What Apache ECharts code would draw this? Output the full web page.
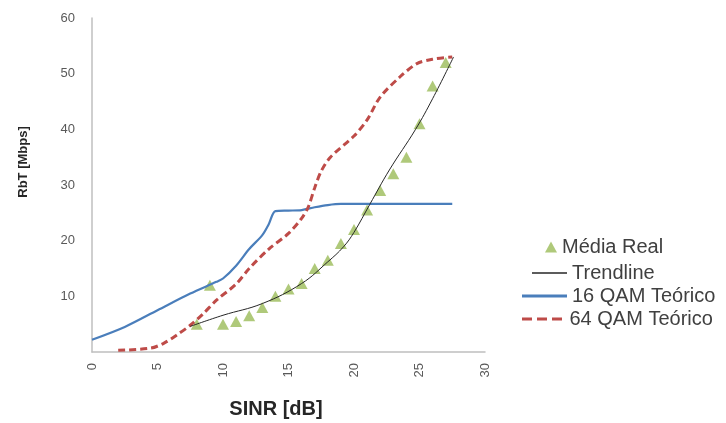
<!DOCTYPE html>
<html><head><meta charset="utf-8">
<script src="https://cdn.jsdelivr.net/npm/echarts@6/dist/echarts.min.js"></script>
<style>html,body{margin:0;padding:0;background:#fff}#c{width:726px;height:423px}</style>
</head><body><div id="c"></div>
<script>
var xTicks = [0, 5, 10, 15, 20, 25, 30];
var yTicks = [10, 20, 30, 40, 50, 60];
var mediaReal = [[8,5],[9,12],[10,5],[11,5.5],[12,6.5],[13,8],[14,10],[15,11.3],[16,12.3],[17,15],[18,16.5],[19,19.5],[20,22],[21,25.5],[22,29],[23,32],[24,35],[25,41],[26,47.8],[27,52]];
var trendline = [[7.5,4.6],[10,6.6],[13,8.7],[16,12.3],[18,16.2],[19.2,18.9],[20,21.5],[21.2,26.5],[22.7,32.7],[24.7,40],[26,45.5],[27.6,53]];
var qam16 = [[0,2.2],[2.5,4.5],[5,7.5],[7.5,10.5],[9.5,12.6],[10,13.2],[11,15.5],[12,18.5],[13,21],[13.5,23],[14,25.3],[15,25.4],[16,25.5],[17,26],[18,26.4],[19,26.6],[20,26.6],[27.5,26.6]];
var qam64 = [[2,0.3],[4.5,0.7],[5.5,1.6],[6.5,3.1],[7.5,4.8],[8.5,6.9],[9.5,9.3],[11,12.2],[12,15],[13.5,18.5],[15,21.3],[16,24],[16.5,26],[17,29.5],[17.5,32.5],[18.2,35],[20,38.8],[21,41.7],[22,45.8],[23.5,49.4],[24.8,51.8],[26,52.6],[27.5,53]];

var FONT = 'Liberation Sans';
var chart = echarts.init(document.getElementById('c'), null, {renderer:'canvas'});
var legText = {fontFamily: FONT, fontSize: 20, color: '#404040'};
var dashIcon = 'path://M0,0h10v3h-10z M15,0h10v3h-10z M30,0h10v3h-10z';
chart.setOption({
  animation: false,
  textStyle: {fontFamily: FONT},
  grid: {left: 92, right: 241, top: 18, bottom: 71},
  xAxis: {
    type: 'value', min: xTicks[0], max: xTicks[xTicks.length-1], interval: 5,
    axisLine: {lineStyle: {color: '#bfbfbf', width: 1.5}},
    axisTick: {show: false}, splitLine: {show: false},
    axisLabel: {rotate: 90, color: '#595959', fontSize: 13, margin: 11, fontFamily: FONT}
  },
  yAxis: {
    type: 'value', min: 0, max: yTicks[yTicks.length-1], interval: 10,
    axisLine: {show: true, lineStyle: {color: '#bfbfbf', width: 1.5}},
    axisTick: {show: false}, splitLine: {show: false},
    axisLabel: {color: '#595959', fontSize: 13, margin: 17, fontFamily: FONT,
      formatter: function(v){ return v === 0 ? '' : v; }}
  },
  graphic: [
    {type: 'text', x: 276, y: 409, style: {text: 'SINR [dB]', font: 'bold 20px "Liberation Sans"', fill: '#262626', align: 'center', verticalAlign: 'middle', textAlign: 'center', textVerticalAlign: 'middle'}},
    {type: 'text', x: 23, y: 162, rotation: Math.PI / 2, style: {text: 'RbT [Mbps]', font: 'bold 13px "Liberation Sans"', fill: '#262626', align: 'center', verticalAlign: 'middle', textAlign: 'center', textVerticalAlign: 'middle'}}
  ],
  legend: [
    {left: 540, top: 232, orient: 'vertical', itemWidth: 12, itemHeight: 11, textStyle: legText, data: [{name: 'Média Real', icon: 'triangle'}]},
    {left: 527, top: 258, orient: 'vertical', itemWidth: 35, itemHeight: 1.5, textStyle: legText, data: [{name: 'Trendline', icon: 'rect'}]},
    {left: 517, top: 281, orient: 'vertical', itemWidth: 45, itemHeight: 3, textStyle: legText, data: [{name: '16 QAM Teórico', icon: 'rect'}]},
    {left: 517, top: 304, orient: 'vertical', itemWidth: 45, itemHeight: 3, textStyle: legText, data: [{name: '64 QAM Teórico', icon: dashIcon}]}
  ],
  series: [
    {name: '16 QAM Teórico', type: 'line', data: qam16, smooth: 0.3, showSymbol: false, symbol: 'none',
     lineStyle: {color: '#4a7ebb', width: 2.2}, itemStyle: {color: '#4a7ebb'}},
    {name: '64 QAM Teórico', type: 'line', data: qam64, smooth: 0.3, showSymbol: false, symbol: 'none',
     lineStyle: {color: '#be4b48', width: 3, type: [7, 4]}, itemStyle: {color: '#be4b48'}},
    {name: 'Média Real', type: 'scatter', data: mediaReal, symbol: 'triangle', symbolSize: [12, 11],
     itemStyle: {color: '#9bbb59'}},
    {name: 'Trendline', type: 'line', data: trendline, smooth: 0.4, showSymbol: false, symbol: 'none',
     lineStyle: {color: '#262626', width: 1}, itemStyle: {color: '#262626'}, z: 3}
  ]
});
</script></body></html>
